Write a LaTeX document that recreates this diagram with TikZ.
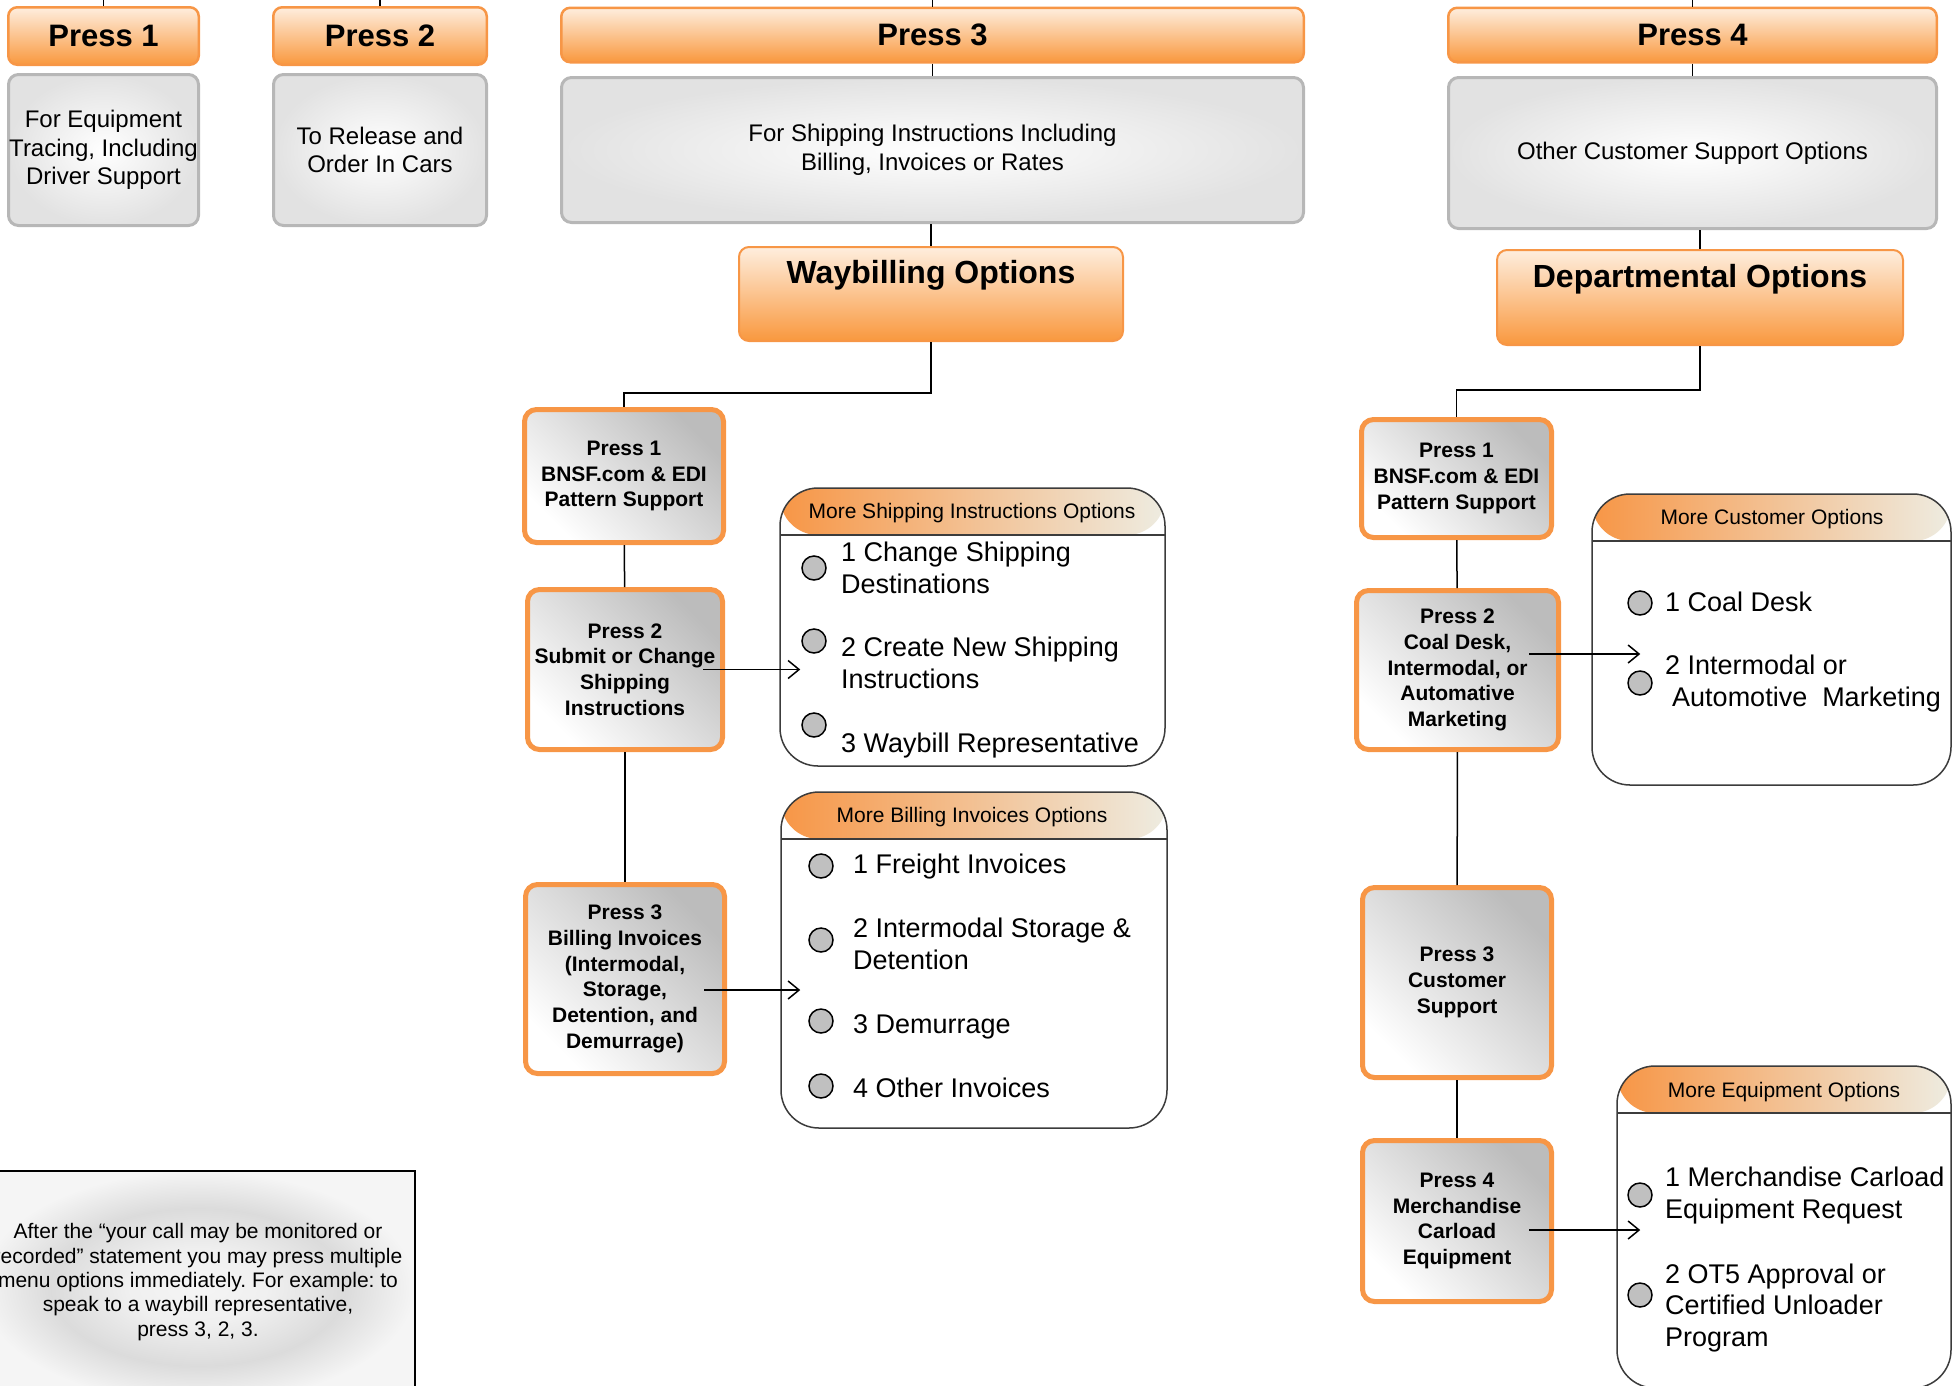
\documentclass[tikz,border=0pt]{standalone}
\usepackage{fontspec}
\setmainfont{Liberation Sans}
\usetikzlibrary{arrows.meta, calc}
\frenchspacing

\definecolor{bnsforange}{RGB}{247,150,70}
\definecolor{headtop}{RGB}{254,238,222}
\definecolor{headbottom}{RGB}{249,152,62}
\definecolor{cream}{RGB}{238,236,225}
\definecolor{boxedge}{RGB}{183,183,183}
\definecolor{boxgray}{RGB}{226,226,226}
\definecolor{menudark}{RGB}{188,188,188}
\definecolor{radiogray}{RGB}{192,192,192}
\definecolor{optedge}{RGB}{60,60,60}

\pgfdeclareradialshading{noteglow}{\pgfpoint{0bp}{0bp}}{color(0bp)=(black!4); color(8bp)=(black!6); color(17bp)=(black!14); color(25bp)=(black!4); color(50bp)=(black!4)}

\tikzset{
  pressbar/.style={draw=bnsforange, line width=2.5pt, rounded corners=9pt, top color=headtop, bottom color=headbottom, inner sep=0pt, font=\fontsize{31}{36}\selectfont\bfseries},
  infobox/.style={draw=boxedge, line width=3pt, rounded corners=10pt, inner color=white, outer color=boxgray, inner sep=0pt, align=center, font=\fontsize{24}{28.5}\selectfont},
  titlebox/.style={draw=bnsforange, line width=2pt, rounded corners=10pt, top color=headtop, bottom color=headbottom, inner sep=0pt},
  bigtitle/.style={anchor=base, inner sep=0pt, font=\fontsize{32}{38}\selectfont\bfseries},
  menubox/.style={draw=bnsforange, line width=5pt, rounded corners=12pt, top color=menudark, bottom color=white, shading angle=-45, inner sep=0pt, align=center, font=\fontsize{21}{25.7}\selectfont\bfseries},
  optbox/.style={draw=optedge, line width=1.5pt, rounded corners=38pt, fill=white, inner sep=0pt,
    path picture={
      \shade[left color=bnsforange, right color=cream] (path picture bounding box.north west) rectangle ([yshift=-47pt]path picture bounding box.north east);
      \draw[optedge, line width=2pt] ([yshift=-47pt]path picture bounding box.north west) -- ([yshift=-47pt]path picture bounding box.north east);
    }},
  opttitle/.style={anchor=base, inner sep=0pt, font=\fontsize{21}{25}\selectfont},
  optitem/.style={anchor=base west, align=left, inner sep=0pt, font=\fontsize{27}{31.5}\selectfont},
  radio/.style={circle, draw=black, line width=1.5pt, fill=radiogray, minimum size=24pt, inner sep=0pt},
  link/.style={line width=1.5pt},
  pointer/.style={-{Straight Barb[length=11pt,width=18pt]}, line width=1.5pt},
}

\begin{document}
\begin{tikzpicture}[x=1pt, y=-1pt]
    \useasboundingbox (0,0) rectangle (1952,1385);

    % Main menu
    \node[pressbar, minimum width=190.5pt, minimum height=57.5pt] (press1) at (103.5,36) {Press 1};
    \node[pressbar, minimum width=213.5pt, minimum height=57.5pt] (press2) at (380,36) {Press 2};
    \node[pressbar, minimum width=742.5pt, minimum height=54.5pt] (press3) at (932.5,35) {Press 3};
    \node[pressbar, minimum width=488.5pt, minimum height=54.5pt] (press4) at (1692.5,35) {Press 4};

    \node[infobox, minimum width=190pt, minimum height=151pt] (press1info) at (103.5,150) {For Equipment\\Tracing, Including\\Driver Support};
    \node[infobox, minimum width=213pt, minimum height=151pt] (press2info) at (380,150) {To Release and\\Order In Cars};
    \node[infobox, minimum width=742pt, minimum height=145pt] (press3info) at (932.5,150) {For Shipping Instructions Including\\Billing, Invoices or Rates};
    \node[infobox, minimum width=488pt, minimum height=151pt] (press4info) at (1692.5,153) {Other Customer Support Options};

    \foreach \p in {press1, press2, press3, press4}
        \draw[link] (\p.north) -- (\p.north |- 0,0);
    \draw[link] (press3) -- (press3info);
    \draw[link] (press4) -- (press4info);

    % Waybilling
    \node[titlebox, minimum width=384pt, minimum height=94pt] (waybill) at (931,294) {};
    \node[bigtitle] (waybilltitle) at (931,283) {Waybilling Options};
    \draw[link] (waybill.north) -- (waybill.north |- press3info.south);

    \node[menubox, minimum width=199pt, minimum height=133pt] (ship1) at (624,476) {Press 1\\BNSF.com \& EDI\\Pattern Support};
    \node[menubox, minimum width=195pt, minimum height=160pt] (ship2) at (625,669.5) {Press 2\\Submit or Change\\Shipping\\Instructions};
    \node[menubox, minimum width=199pt, minimum height=189pt] (ship3) at (625,979) {Press 3\\Billing Invoices\\(Intermodal,\\Storage,\\Detention, and\\Demurrage)};
    \draw[link] (waybill.south) -- ++(0,51) -| (ship1.north);
    \draw[link] (ship1) -- (ship2);
    \draw[link] (ship2) -- (ship3);

    % Departmental
    \node[titlebox, minimum width=406pt, minimum height=95pt] (dept) at (1700,297.5) {};
    \node[bigtitle] (depttitle) at (1700,287) {Departmental Options};
    \draw[link] (dept.north) -- (dept.north |- press4info.south);

    \node[menubox, minimum width=190pt, minimum height=118pt] (dept1) at (1456.5,478.5) {Press 1\\BNSF.com \& EDI\\Pattern Support};
    \node[menubox, minimum width=202pt, minimum height=159pt] (dept2) at (1457.5,670) {Press 2\\Coal Desk,\\Intermodal, or\\Automative\\Marketing};
    \node[menubox, minimum width=189pt, minimum height=190pt] (dept3) at (1457,982.5) {Press 3\\Customer\\Support};
    \node[menubox, minimum width=189pt, minimum height=161pt] (dept4) at (1457,1221) {Press 4\\Merchandise\\Carload\\Equipment};
    \draw[link] (dept.south) -- ++(0,44) -| (dept1.north);
    \draw[link] (dept1) -- (dept2);
    \draw[link] (dept2) -- (dept3);
    \draw[link] (dept3) -- (dept4);

    % Sub menus
    \node[optbox, minimum width=385pt, minimum height=278pt] (shipopt) at (972.5,627) {};
    \node[optbox, minimum width=386pt, minimum height=336pt] (billopt) at (974,960) {};
    \node[optbox, minimum width=359pt, minimum height=291pt] (custopt) at (1771.5,639.5) {};
    \node[optbox, minimum width=334pt, minimum height=322pt] (equipopt) at (1784,1227) {};

    \node[opttitle] (shiptitle) at (972,518) {More Shipping Instructions Options};
    \node[opttitle] (billtitle) at (972,822) {More Billing Invoices Options};
    \node[opttitle] (custtitle) at (1772,524) {More Customer Options};
    \node[opttitle] (equiptitle) at (1784,1097) {More Equipment Options};

    \foreach \n/\x/\y in {s1/814/568, s2/814/641, s3/814/725, b1/821/866, b2/821/940, b3/821/1021, b4/821/1086, c1/1640/603, c2/1640/683, e1/1640/1195, e2/1640/1295}
        \node[radio] (radio\n) at (\x,\y) {};

    % base anchor sits on the last line
    \node[optitem] (items1) at (841,593) {1 Change Shipping\\Destinations};
    \node[optitem] (items2) at (841,688) {2 Create New Shipping\\Instructions};
    \node[optitem] (items3) at (841,752) {3 Waybill Representative};
    \node[optitem] (itemb1) at (853,873) {1 Freight Invoices};
    \node[optitem] (itemb2) at (853,969) {2 Intermodal Storage \&\\Detention};
    \node[optitem] (itemb3) at (853,1033) {3 Demurrage};
    \node[optitem] (itemb4) at (853,1097) {4 Other Invoices};
    \node[optitem] (itemc1) at (1665,611) {1 Coal Desk};
    \node[optitem] (itemc2) at (1665,706) {2 Intermodal or\\\hspace*{7pt}Automotive\ \ Marketing};
    \node[optitem] (iteme1) at (1665,1218) {1 Merchandise Carload\\Equipment Request};
    \node[optitem] (iteme2) at (1665,1346) {2 OT5 Approval or\\Certified Unloader\\Program};

    \draw[pointer] ($(ship2.east)+(-22,0)$) -- ($(ship2.east -| shipopt.west)+(21,0)$);
    \draw[pointer] ($(ship3.east)+(-23,11)$) -- ($(ship3.east -| billopt.west)+(20,11)$);
    \draw[pointer] ($(dept2.east)+(-32,-16)$) -- ($(dept2.east -| custopt.west)+(49,-16)$);
    \draw[pointer] ($(dept4.east)+(-25,9)$) -- ($(dept4.east -| equipopt.west)+(24,9)$);

    % Note
    \node[draw=black, line width=2pt, shading=noteglow, minimum width=434pt, minimum height=232pt, inner sep=0pt] (note) at (198,1287) {};
    \node[align=center, inner sep=0pt, font=\fontsize{21}{24.3}\selectfont] (notetext) at (198,1282) {After the “your call may be monitored or\\recorded” statement you may press multiple\\menu options immediately. For example: to\\speak to a waybill representative,\\press 3, 2, 3.};
\end{tikzpicture}
\end{document}
